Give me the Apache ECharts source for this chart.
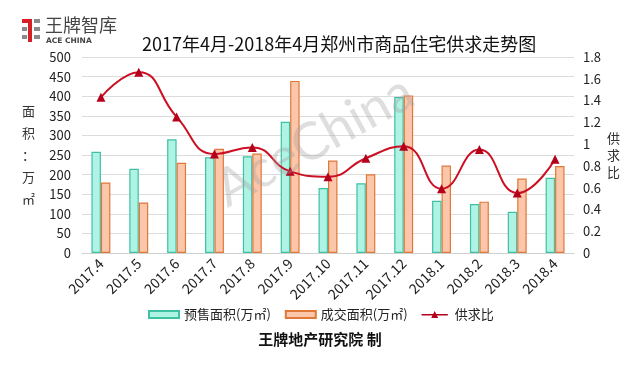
<!DOCTYPE html>
<html><head><meta charset="utf-8">
<script src="https://cdn.jsdelivr.net/npm/echarts@6/dist/echarts.min.js"></script>
<style>html,body{margin:0;padding:0;background:#fff}#c{width:640px;height:365px}</style>
</head><body><div id="c"></div>
<script>
const categories = ['2017.4','2017.5','2017.6','2017.7','2017.8','2017.9','2017.10','2017.11','2017.12','2018.1','2018.2','2018.3','2018.4'];
const presale = [258, 215, 290, 244, 247, 335, 166, 178, 398, 133, 125, 105, 192];
const deal = [180, 129, 230, 266, 254, 439, 236, 201, 402, 223, 131, 190, 222];
const ratio = [1.43, 1.66, 1.25, 0.91, 0.97, 0.75, 0.70, 0.87, 0.98, 0.59, 0.95, 0.55, 0.86];
const leftTicks = [0, 500, 50];
const rightTicks = [0, 1.8, 0.2];

const chart = echarts.init(document.getElementById('c'));
const font = '"Noto Sans CJK SC", "Noto Sans", sans-serif';
chart.setOption({
  animation: false,
  textStyle: {fontFamily: font},
  title: {
    text: '2017年4月-2018年4月郑州市商品住宅供求走势图',
    left: 137, top: 30,
    textStyle: {fontSize: 18, fontWeight: 'normal', color: '#111', fontFamily: font}
  },
  grid: {left: 82, right: 66, top: 57, bottom: 112, containLabel: false},
  legend: {
    top: 303, left: 143, itemGap: 14, itemWidth: 30, itemHeight: 7,
    textStyle: {fontSize: 13, color: '#222', fontFamily: font},
    data: [
      {name: '预售面积(万㎡)', icon: 'rect'},
      {name: '成交面积(万㎡)', icon: 'rect'},
      {name: '供求比', icon: 'path://M0,3.5L30,3.5L30,5L0,5Z M11,8L15,0L19,8Z'}
    ]
  },
  xAxis: {
    type: 'category', data: categories,
    axisLine: {lineStyle: {color: '#d0d0d0'}},
    axisTick: {show: false},
    axisLabel: {rotate: 45, fontSize: 14, color: '#222', margin: 8, interval: 0}
  },
  yAxis: [
    {
      type: 'value', min: leftTicks[0], max: leftTicks[1], interval: leftTicks[2],
      name: '面\n积\n：\n万\n㎡', nameLocation: 'middle', nameGap: 47, nameRotate: 0,
      nameTextStyle: {fontSize: 13, color: '#333', lineHeight: 22},
      axisLine: {show: false}, axisTick: {show: false},
      axisLabel: {fontSize: 13, color: '#222', margin: 11},
      splitLine: {lineStyle: {color: '#dcdcdc'}}
    },
    {
      type: 'value', min: rightTicks[0], max: rightTicks[1], interval: rightTicks[2],
      name: '供\n求\n比', nameLocation: 'middle', nameGap: 30, nameRotate: 0,
      nameTextStyle: {fontSize: 13, color: '#333', lineHeight: 17},
      axisLine: {show: false}, axisTick: {show: false},
      axisLabel: {fontSize: 13, color: '#222', margin: 9,
        formatter: v => String(Math.round(v * 10) / 10)},
      splitLine: {show: false}
    }
  ],
  series: [
    {
      name: '预售面积(万㎡)', type: 'bar', data: presale, barWidth: '25%', barGap: '0%',
      itemStyle: {color: '#aef3e4', borderColor: '#3fc1a4', borderWidth: 1.2}
    },
    {
      name: '成交面积(万㎡)', type: 'bar', data: deal, barWidth: '25%', barGap: '0%',
      itemStyle: {color: '#fbc6aa', borderColor: '#e0783a', borderWidth: 1.2}
    },
    {
      name: '供求比', type: 'line', yAxisIndex: 1, data: ratio, smooth: 0.5,
      symbol: 'triangle', symbolSize: 9,
      lineStyle: {color: '#cc1024', width: 2},
      itemStyle: {color: '#b5001c'}
    }
  ],
  graphic: [
    {type: 'text', left: 'center', top: 332,
     style: {text: '王牌地产研究院 制', fontSize: 15, fontWeight: 'bold', fill: '#111', fontFamily: font}},
    {type: 'text', x: 232, y: 216, rotation: Math.PI * 0.16, z: 100,
     style: {text: 'AceChina', fontSize: 52, verticalAlign: 'bottom', fill: 'rgba(160,160,160,0.35)', fontFamily: 'Lato, sans-serif'}},
    {type: 'group', left: 22, top: 16, children: [
      {type: 'rect', shape: {x: 0, y: 0, width: 10, height: 4}, style: {fill: '#d61f26'}},
      {type: 'rect', shape: {x: 6, y: 4, width: 4, height: 19}, style: {fill: '#d61f26'}},
      {type: 'rect', shape: {x: 0, y: 8, width: 5, height: 4}, style: {fill: '#8a8a8a'}},
      {type: 'rect', shape: {x: 0, y: 16, width: 5, height: 4}, style: {fill: '#8a8a8a'}},
      {type: 'rect', shape: {x: 12, y: 0, width: 6, height: 4}, style: {fill: '#8a8a8a'}},
      {type: 'rect', shape: {x: 12, y: 8, width: 6, height: 4}, style: {fill: '#8a8a8a'}},
      {type: 'rect', shape: {x: 12, y: 16, width: 6, height: 4}, style: {fill: '#8a8a8a'}},
      {type: 'text', x: 23, y: -3, style: {text: '王牌智库', fontSize: 18, fill: '#444', fontFamily: font}},
      {type: 'text', x: 24, y: 18, style: {text: 'ACE CHINA', fontSize: 7.5, fontWeight: 'bold', fill: '#444', fontFamily: 'DejaVu Sans'}}
    ]}
  ]
});
</script></body></html>
